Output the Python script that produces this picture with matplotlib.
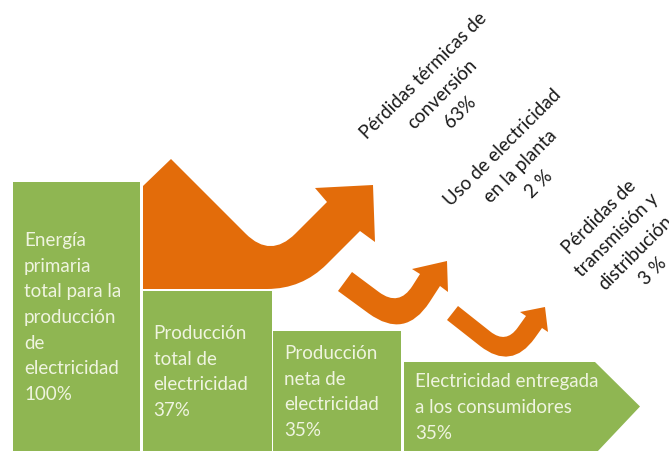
import numpy as np
import matplotlib.pyplot as plt
from matplotlib.path import Path
from matplotlib.patches import PathPatch, Polygon

plt.rcParams['font.family'] = ['Lato', 'DejaVu Sans']

# Etapas de la cadena de electricidad (cajas verdes)
stage_names = [
    'Energía\nprimaria\ntotal para la\nproducción\nde\nelectricidad',
    'Producción\ntotal de\nelectricidad',
    'Producción\nneta de\nelectricidad',
    'Electricidad entregada\na los consumidores',
]
stage_pct = [100, 37, 35, 35]

# Pérdidas entre etapas (flechas naranjas)
loss_names = [
    'Pérdidas térmicas de\nconversión',
    'Uso de electricidad\nen la planta',
    'Pérdidas de\ntransmisión y\ndistribución',
]
loss_pct = [63, 2, 3]
loss_fmt = ['{}%', '{} %', '{} %']

# --- maquetación (coordenadas en píxeles, y hacia abajo) ---
W, H = 669, 452
GREEN = '#8fb652'
ORANGE = '#e36c0a'
TEXT_LIGHT = '#eff4e0'
TEXT_DARK = '#1a1a1a'
FONT_SIZE = 13.5
LINE_SPACING = 1.62

box_left = [13, 142.5, 273, 404]
box_right = [140, 271.5, 401, 595]
box_top = [183, 292, 332, 363]
tip_x = 640
text_pad = 11

label_pos = [(442, 94), (521, 166), (626, 244)]

# contornos de las flechas: (punto, radio de redondeo)
arrow_outlines = [
    [((143, 290), 0), ((143, 187), 0), ((171, 160), 0), ((270.5, 259.5), 35),
     ((327, 203), 0), ((315, 189), 0), ((373, 186), 0), ((375, 243), 0),
     ((360, 232), 0), ((302, 290), 35)],
    [((338, 292), 0), ((352, 273), 0), ((399, 308), 25), ((420, 275), 0),
     ((412, 270), 0), ((447, 262), 0), ((448, 293), 0), ((440, 287), 0),
     ((405, 341), 45)],
    [((447, 321), 0), ((458, 307), 0), ((506, 345), 20), ((526, 317), 0),
     ((520, 313), 0), ((545, 308), 0), ((548, 333), 0), ((542, 329), 0),
     ((511.5, 371.7), 40)],
]


def rounded_outline(outline):
    """Polígono cerrado con esquinas redondeadas por curvas cuadráticas."""
    pts = np.array([p for p, _ in outline], dtype=float)
    radii = [r for _, r in outline]
    n = len(pts)
    verts, codes = [], []
    for i in range(n):
        p, r = pts[i], radii[i]
        if r == 0:
            verts.append(p)
            codes.append(Path.LINETO)
            continue
        prev, nxt = pts[i - 1], pts[(i + 1) % n]
        a = p + (prev - p) / np.linalg.norm(prev - p) * r
        b = p + (nxt - p) / np.linalg.norm(nxt - p) * r
        verts += [a, p, b]
        codes += [Path.LINETO, Path.CURVE3, Path.CURVE3]
    codes[0] = Path.MOVETO
    verts.append(verts[0])
    codes.append(Path.CLOSEPOLY)
    return Path(verts, codes)


fig = plt.figure(figsize=(W / 100, H / 100), dpi=100)
ax = fig.add_axes([0, 0, 1, 1])
ax.set_xlim(0, W)
ax.set_ylim(H, 0)
ax.axis('off')

# cajas rectangulares de las tres primeras etapas
lefts = np.array(box_left[:3])
widths = np.array(box_right[:3]) - lefts
tops = np.array(box_top[:3])
ax.bar(lefts, H + 5 - tops, width=widths, bottom=tops, align='edge',
       color=GREEN, edgecolor='none')

# última etapa en forma de flecha
mid_y = (box_top[3] + H) / 2
ax.add_patch(Polygon([(box_left[3], box_top[3]), (box_right[3], box_top[3]),
                      (tip_x, mid_y), (box_right[3] + 2, H + 1),
                      (box_left[3], H + 1)],
                     closed=True, facecolor=GREEN, edgecolor='none'))

for outline in arrow_outlines:
    ax.add_patch(PathPatch(rounded_outline(outline), facecolor=ORANGE,
                           edgecolor='none'))

# textos de las etapas
for name, pct, left, top in zip(stage_names, stage_pct, box_left, box_top):
    ax.text(left + text_pad, (top + H) / 2, f'{name}\n{pct}%',
            ha='left', va='center', color=TEXT_LIGHT, fontsize=FONT_SIZE,
            linespacing=LINE_SPACING)

# etiquetas giradas de las pérdidas
for name, pct, fmt, (x, y) in zip(loss_names, loss_pct, loss_fmt, label_pos):
    ax.text(x, y, name + '\n' + fmt.format(pct), rotation=45,
            rotation_mode='anchor', ha='center', va='center',
            multialignment='center', color=TEXT_DARK, fontsize=FONT_SIZE,
            linespacing=LINE_SPACING)

fig.savefig('out.png', dpi=100, facecolor='white')
